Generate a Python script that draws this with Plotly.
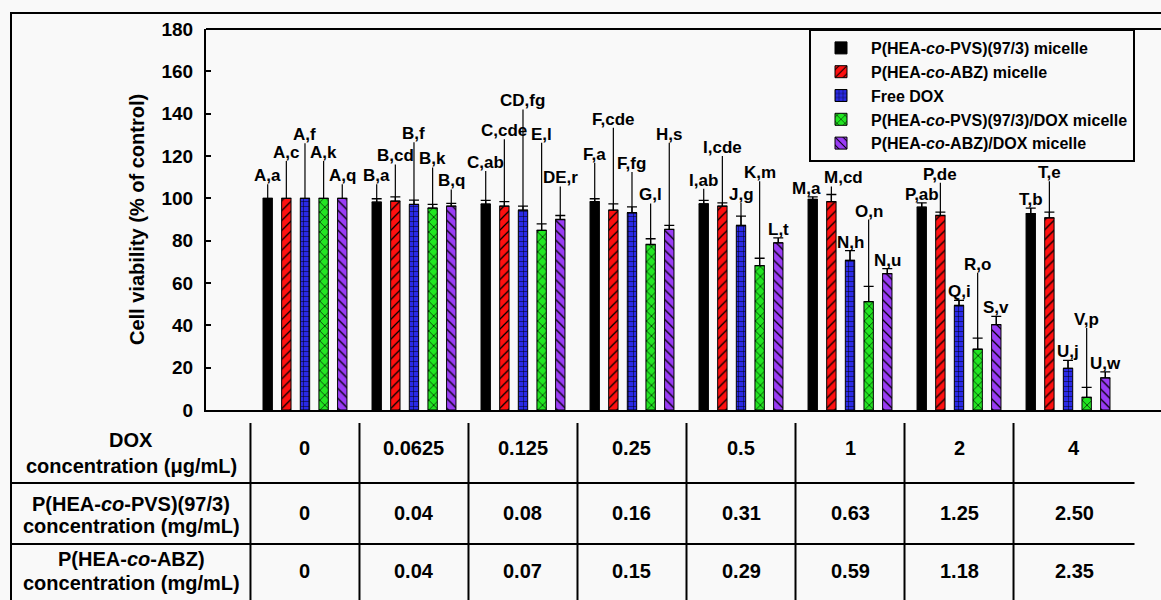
import plotly.graph_objects as go

# ---- data -------------------------------------------------------------
dox_conc = ["0", "0.0625", "0.125", "0.25", "0.5", "1", "2", "4"]
pvs_conc = ["0", "0.04", "0.08", "0.16", "0.31", "0.63", "1.25", "2.50"]
abz_conc = ["0", "0.04", "0.07", "0.15", "0.29", "0.59", "1.18", "2.35"]

series_names = [
    "P(HEA-<i>co</i>-PVS)(97/3) micelle",
    "P(HEA-<i>co</i>-ABZ) micelle",
    "Free DOX",
    "P(HEA-<i>co</i>-PVS)(97/3)/DOX micelle",
    "P(HEA-<i>co</i>-ABZ)/DOX micelle",
]

# mean cell viability (% of control)
pvs_micelle = [100, 98.2, 97.3, 98.4, 97.4, 99.5, 95.8, 92.8]
abz_micelle = [100, 98.7, 96.3, 94.4, 96.3, 98.4, 91.9, 90.8]
free_dox = [100, 97.1, 94.4, 93.2, 87.2, 70.7, 49.4, 19.7]
pvs_dox = [100, 95.4, 84.9, 78.2, 68.2, 51.2, 28.7, 6.0]
abz_dox = [100, 96.3, 90.0, 85.3, 79.0, 64.4, 40.3, 15.2]

# standard deviations
pvs_micelle_sd = [0, 1.6, 1.7, 1.4, 1.6, 1.2, 2.1, 2.6]
abz_micelle_sd = [0, 2.0, 2.1, 3.0, 1.6, 3.4, 1.6, 2.7]
free_dox_sd = [0, 2.1, 1.9, 2.8, 4.4, 4.6, 2.4, 3.7]
pvs_dox_sd = [0, 1.7, 3.0, 2.7, 3.5, 7.2, 5.3, 4.7]
abz_dox_sd = [0, 1.3, 1.9, 1.9, 2.3, 2.4, 3.9, 2.8]

# height of the leader line that carries each significance label
pvs_micelle_lead = [106.6, 106.6, 112.9, 116.8, 104.5, 100.7, 97.9, 95.4]
abz_micelle_lead = [117.6, 116.0, 127.9, 133.4, 120.0, 105.6, 107.4, 108.1]
free_dox_lead = [126.0, 126.5, 142.0, 112.4, 97.9, 75.3, 51.8, 23.4]
pvs_dox_lead = [117.6, 114.6, 126.3, 97.6, 108.1, 90.0, 64.8, 38.7]
abz_dox_lead = [106.6, 104.2, 105.6, 126.3, 81.3, 66.8, 44.2, 18.0]

# significance letters
pvs_micelle_sig = ["A,a", "B,a", "C,ab", "F,a", "I,ab", "M,a", "P,ab", "T,b"]
abz_micelle_sig = ["A,c", "B,cd", "C,cde", "F,cde", "I,cde", "M,cd", "P,de", "T,e"]
free_dox_sig = ["A,f", "B,f", "CD,fg", "F,fg", "J,g", "N,h", "Q,i", "U,j"]
pvs_dox_sig = ["A,k", "B,k", "E,l", "G,l", "K,m", "O,n", "R,o", "V,p"]
abz_dox_sig = ["A,q", "B,q", "DE,r", "H,s", "L,t", "N,u", "S,v", "U,w"]

table_headers = [
    ["DOX", "concentration (μg/mL)"],
    ["P(HEA-<i>co</i>-PVS)(97/3)", "concentration (mg/mL)"],
    ["P(HEA-<i>co</i>-ABZ)", "concentration (mg/mL)"],
]

# ---- styling ----------------------------------------------------------
FONT = "Liberation Sans, Arial, sans-serif"
BG = "#f9f9f9"
styles = [
    dict(color="#000000", shape="", size=8),
    dict(color="#ff1010", shape="/", size=7),
    dict(color="#2a2ae6", shape="+", size=5),
    dict(color="#22e622", shape="x", size=7),
    dict(color="#9a3cf5", shape="\\", size=7),
]
# horizontal pixel nudges for crowded labels: (series, group) -> px
label_nudge = {(0, 5): -6, (1, 5): 12}

means = [pvs_micelle, abz_micelle, free_dox, pvs_dox, abz_dox]
sds = [pvs_micelle_sd, abz_micelle_sd, free_dox_sd, pvs_dox_sd, abz_dox_sd]
leads = [pvs_micelle_lead, abz_micelle_lead, free_dox_lead, pvs_dox_lead, abz_dox_lead]
sigs = [pvs_micelle_sig, abz_micelle_sig, free_dox_sig, pvs_dox_sig, abz_dox_sig]

W, H = 1161, 600
ML, MR, MT, MB = 206, 0, 29, 190
PW, PH = W - ML - MR, H - MT - MB
X_RANGE = [-0.908, 7.853]
Y_RANGE = [0, 180]
SLOT = 0.171      # spacing between bars inside a group
BAR_W = 0.086

def px_x(px):
    return (px - ML) / PW

def px_y(py):
    return (H - MB - py) / PH

def data_x(x):
    return (x - X_RANGE[0]) / (X_RANGE[1] - X_RANGE[0])

def bold(size):
    return dict(family=FONT, size=size, color="black", weight="bold")

groups = list(range(len(dox_conc)))
fig = go.Figure()

for s in range(len(means)):
    xs = [g + (s - 2) * SLOT for g in groups]
    st = styles[s]
    pattern = dict(shape=st["shape"], fgcolor="black", bgcolor=st["color"],
                   size=st["size"], solidity=0.18, fillmode="replace") if st["shape"] else None
    fig.add_trace(go.Bar(
        x=xs, y=means[s], width=BAR_W, name=series_names[s],
        marker=dict(color=st["color"], line=dict(color="black", width=1), pattern=pattern),
        error_y=dict(type="data", array=sds[s], arrayminus=[0] * len(groups),
                     symmetric=False, width=5, thickness=1.3, color="black"),
    ))
    # leader line from the bar up to its label
    fig.add_trace(go.Scatter(
        x=xs, y=means[s], mode="markers", marker=dict(size=1, opacity=0),
        showlegend=False, hoverinfo="skip",
        error_y=dict(type="data", array=[l - m for l, m in zip(leads[s], means[s])],
                     arrayminus=[0] * len(groups), symmetric=False, width=0,
                     thickness=1.2, color="black"),
    ))
    for g, (x, l, t) in enumerate(zip(xs, leads[s], sigs[s])):
        fig.add_annotation(x=x, y=l, text=t, showarrow=False, yanchor="bottom",
                           xanchor="center", yshift=-3,
                           xshift=label_nudge.get((s, g), 0), font=bold(17))

# ---- table below the x axis ------------------------------------------
shapes = []
row_lines = [483, 544]
table_left, table_right = 11, data_x(7.61)
for py in row_lines:
    shapes.append(dict(type="line", xref="paper", yref="paper",
                       x0=px_x(table_left), x1=table_right, y0=px_y(py), y1=px_y(py),
                       line=dict(color="black", width=2)))
for k in range(-1, len(groups) - 1):
    xp = data_x(k + 0.5)
    shapes.append(dict(type="line", xref="paper", yref="paper",
                       x0=xp, x1=xp, y0=px_y(423), y1=px_y(602),
                       line=dict(color="black", width=2)))

# outer frame and plot top border
shapes.append(dict(type="rect", xref="paper", yref="paper",
                   x0=px_x(11), x1=1.05, y0=px_y(13), y1=px_y(610),
                   line=dict(color="black", width=2), fillcolor="rgba(0,0,0,0)"))
shapes.append(dict(type="line", xref="paper", yref="paper",
                   x0=0, x1=1, y0=1, y1=1, line=dict(color="black", width=2)))

row_centers = [448, 513, 571]
header_lines = [(440, 466), (504, 526), (559, 583)]
rows = [dox_conc, pvs_conc, abz_conc]
cell_centers = [g if g < len(groups) - 1 else (6.5 + 7.61) / 2 for g in groups]
for r, vals in enumerate(rows):
    for line_text, py in zip(table_headers[r], header_lines[r]):
        fig.add_annotation(xref="paper", yref="paper", x=px_x(131), y=px_y(py),
                           text=line_text, showarrow=False, xanchor="center",
                           yanchor="middle", font=bold(20))
    for g, v in enumerate(vals):
        fig.add_annotation(xref="paper", yref="paper", x=data_x(cell_centers[g]),
                           y=px_y(row_centers[r]), text=v, showarrow=False,
                           xanchor="center", yanchor="middle", font=bold(20))

# y axis title
fig.add_annotation(xref="paper", yref="paper", x=px_x(137), y=px_y(220),
                   text="Cell viability (% of control)", textangle=-90, showarrow=False,
                   xanchor="center", yanchor="middle", font=bold(20))

fig.update_layout(
    width=W, height=H,
    margin=dict(l=ML, r=MR, t=MT, b=MB, pad=0),
    paper_bgcolor=BG, plot_bgcolor=BG,
    barmode="overlay",
    showlegend=True,
    legend=dict(x=px_x(809), y=1, xanchor="left", yanchor="top",
                bgcolor=BG, bordercolor="black", borderwidth=2,
                font=bold(16), tracegroupgap=0, itemwidth=50),
    shapes=shapes,
    xaxis=dict(range=X_RANGE, showgrid=False, zeroline=False, showticklabels=False,
               ticks="", showline=True, linecolor="black", linewidth=2, fixedrange=True),
    yaxis=dict(range=Y_RANGE, dtick=20, showgrid=False, zeroline=False,
               ticks="inside", ticklen=5, tickwidth=1.5, tickcolor="black",
               showline=True, linecolor="black", linewidth=2,
               ticklabelstandoff=7, tickfont=bold(19)),
)

fig.write_html("out.html")
